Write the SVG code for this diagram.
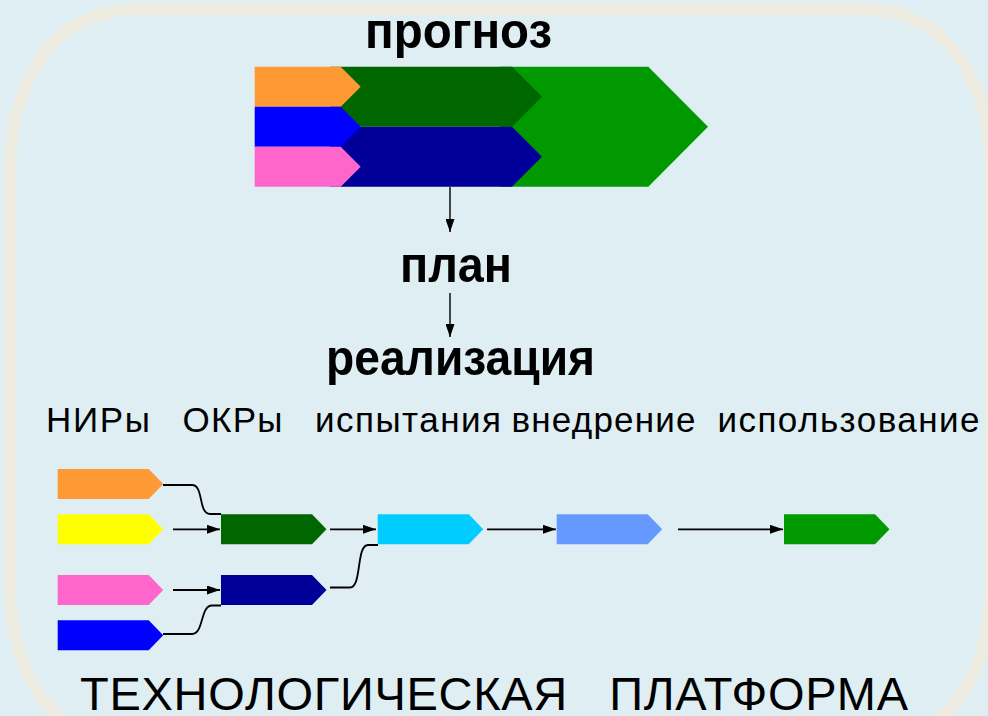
<svg xmlns="http://www.w3.org/2000/svg" xmlns:xlink="http://www.w3.org/1999/xlink" width="988" height="716" viewBox="0 0 988 716">
<style>
.bold{font-family:"Liberation Sans",Arial,sans-serif;font-weight:bold;font-size:50px;fill:#000}
.lab{font-family:"Liberation Sans",Arial,sans-serif;font-size:35px;fill:#000}
.big{font-family:"Liberation Sans",Arial,sans-serif;font-size:47px;fill:#000}
.conn{fill:none;stroke:#000;stroke-width:1.8}
.thin{fill:none;stroke:#000;stroke-width:1.4}
</style>
<defs>
<path id="tag" d="M0,0 H91 L105.5,15 L91,30 H0 Z"/>
<marker id="ah" markerUnits="userSpaceOnUse" markerWidth="13" markerHeight="9" refX="13" refY="4.5" orient="auto">
<path d="M0,0 L13,4.5 L0,9 Z" fill="#000"/>
</marker>
</defs>
<rect x="0" y="0" width="988" height="716" fill="#deeef2"/>
<path d="M140,9 H861 C941,9 989,70 991,170 V585 C989,685 941,746 861,746 H140 C60,746 12,685 10,585 V170 C12,70 60,9 140,9 Z" fill="none" stroke="#eeece1" stroke-width="12"/>

<g id="forecast">
<polygon points="500,66.7 648.3,66.7 708,126.7 648.3,186.7 500,186.7" fill="#009900"/>
<polygon points="330,66.7 512,66.7 542,96.7 512,126.7 330,126.7" fill="#006600"/>
<polygon points="330,126.7 512,126.7 542,156.7 512,186.7 330,186.7" fill="#000099"/>
<polygon points="254.7,66.7 340.7,66.7 360.7,86.7 340.7,106.7 254.7,106.7" fill="#ff9933"/>
<polygon points="254.7,106.7 340.7,106.7 360.7,126.7 340.7,146.7 254.7,146.7" fill="#0000ff"/>
<polygon points="254.7,146.7 340.7,146.7 360.7,166.7 340.7,186.7 254.7,186.7" fill="#ff66cc"/>
</g>

<g id="titles">
<text class="bold" x="365" y="48" textLength="187" lengthAdjust="spacingAndGlyphs">прогноз</text>
<text class="bold" x="400" y="282" textLength="112" lengthAdjust="spacingAndGlyphs">план</text>
<text class="bold" x="326" y="375" textLength="269" lengthAdjust="spacingAndGlyphs">реализация</text>
</g>

<g id="stages">
<text class="lab" x="46" y="431.7" textLength="104">НИРы</text>
<text class="lab" x="182.5" y="431.7" textLength="100">ОКРы</text>
<text class="lab" x="315" y="431.7" textLength="186">испытания</text>
<text class="lab" x="511.5" y="431.7" textLength="184">внедрение</text>
<text class="lab" x="717.5" y="431.7" textLength="262">использование</text>
</g>

<g id="n-orange"><use xlink:href="#tag" x="57.7" y="469" fill="#ff9933"/></g>
<g id="n-yellow"><use xlink:href="#tag" x="57.7" y="514.3" fill="#ffff00"/></g>
<g id="n-pink"><use xlink:href="#tag" x="57.7" y="575" fill="#ff66cc"/></g>
<g id="n-blue"><use xlink:href="#tag" x="57.7" y="620.3" fill="#0000ff"/></g>
<g id="n-dgreen"><use xlink:href="#tag" x="221" y="514.3" fill="#006600"/></g>
<g id="n-navy"><use xlink:href="#tag" x="221" y="575" fill="#000099"/></g>
<g id="n-cyan"><use xlink:href="#tag" x="377.7" y="514.3" fill="#00ccff"/></g>
<g id="n-lblue"><use xlink:href="#tag" x="556.7" y="514.3" fill="#6699ff"/></g>
<g id="n-green"><use xlink:href="#tag" x="784" y="514.3" fill="#009900"/></g>

<g id="connectors">
<path class="thin" d="M450,187 V232" marker-end="url(#ah)"/>
<path class="thin" d="M450,293 V337" marker-end="url(#ah)"/>
<path class="conn" d="M173,529.3 H220" marker-end="url(#ah)"/>
<path class="conn" d="M173,590 H220" marker-end="url(#ah)"/>
<path class="conn" d="M330,529.3 H376" marker-end="url(#ah)"/>
<path class="conn" d="M487,529.3 H556" marker-end="url(#ah)"/>
<path class="conn" d="M678,529.3 H783" marker-end="url(#ah)"/>
<path class="conn" d="M163,485 H192 C204,485 198,514 210,514 H221"/>
<path class="conn" d="M163,634 H192 C204,634 200,605.5 212,605.5 H221"/>
<path class="conn" d="M330,587.5 H350 C362,587.5 356,545 368,545 H378"/>
</g>

<g id="platform">
<text class="big" x="80" y="709.5" textLength="828" xml:space="preserve">ТЕХНОЛОГИЧЕСКАЯ   ПЛАТФОРМА</text>
</g>
</svg>
